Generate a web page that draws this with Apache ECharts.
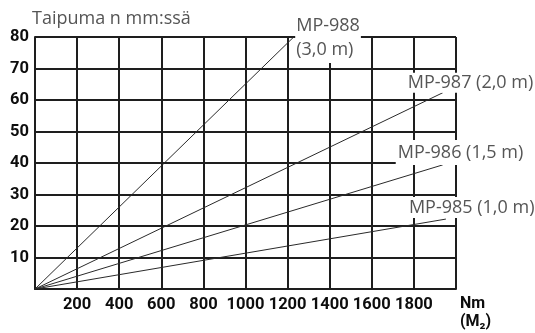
<!DOCTYPE html>
<html>
<head>
<meta charset="utf-8">
<script src="https://cdn.jsdelivr.net/npm/echarts@6/dist/echarts.min.js"></script>
<style>
html,body{margin:0;padding:0;background:#fff;}
#chart{width:535px;height:333px;}
</style>
</head>
<body>
<div id="chart"></div>
<script>
// ---- data ----
const titleText = 'Taipuma n mm:ssä';
const xUnitText = 'Nm\n(M₂)';
const xMin = 0, xMax = 2000, xStep = 200;
const yMin = 0, yMax = 80, yStep = 10;
const seriesNames = ['MP-988', 'MP-987', 'MP-986', 'MP-985'];
const seriesLabels = ['MP-988\n(3,0 m)', 'MP-987 (2,0 m)', 'MP-986 (1,5 m)', 'MP-985 (1,0 m)'];
const mp988 = [[0, 0], [1229, 80]];
const mp987 = [[0, 0], [1937, 62.3]];
const mp986 = [[0, 0], [1937, 39.4]];
const mp985 = [[0, 0], [1952, 22.2]];
const seriesData = [mp988, mp987, mp986, mp985];

// ---- styles ----
const labelStyles = [
  { offset: [-3.5, 0.5], padding: [2, 1, 1, 1], lineHeight: 24 },
  { offset: [-42, -10], padding: [0, 2, 0, 2], lineHeight: 20 },
  { offset: [-52, -12.5], padding: [1, 2, 4, 2], lineHeight: 20 },
  { offset: [-44, -11.5], padding: [0, 2, 1, 2], lineHeight: 20 }
];
const gridColor = '#1e1e1e';
const labelFont = { fontFamily: 'Open Sans', fontSize: 18, fontWeight: 'normal', color: '#555' };
const tickFont = { fontFamily: 'Roboto', fontSize: 16.5, fontWeight: 'bold', color: '#0d0d0d' };

const chart = echarts.init(document.getElementById('chart'), null, { renderer: 'canvas' });

const series = seriesNames.map((name, i) => ({
  name: name,
  type: 'line',
  data: seriesData[i],
  showSymbol: false,
  symbol: 'none',
  silent: true,
  animation: false,
  lineStyle: { color: '#2a2a2a', width: 1 },
  endLabel: Object.assign({
    show: true,
    formatter: () => seriesLabels[i],
    backgroundColor: '#fff',
    distance: 5,
    align: 'left',
    verticalAlign: 'middle'
  }, labelFont, labelStyles[i])
}));

chart.setOption({
  animation: false,
  backgroundColor: '#fff',
  title: {
    text: titleText,
    left: 32,
    top: 8,
    padding: 0,
    textStyle: Object.assign({}, labelFont, { lineHeight: 22 })
  },
  grid: { left: 35, top: 37, right: 79, bottom: 44, containLabel: false },
  xAxis: {
    type: 'value',
    min: xMin, max: xMax, interval: xStep,
    axisLine: { show: true, lineStyle: { color: gridColor, width: 2 } },
    axisTick: { show: false },
    splitLine: { show: true, lineStyle: { color: gridColor, width: 2 } },
    axisLabel: Object.assign({ margin: 7, showMinLabel: false, showMaxLabel: false,
      formatter: v => String(v) }, tickFont)
  },
  yAxis: {
    type: 'value',
    min: yMin, max: yMax, interval: yStep,
    axisLine: { show: true, lineStyle: { color: gridColor, width: 2 } },
    axisTick: { show: false },
    splitLine: { show: true, lineStyle: { color: gridColor, width: 2 } },
    axisLabel: Object.assign({ margin: 6, showMinLabel: false,
      formatter: v => String(v) }, tickFont)
  },
  graphic: [{
    type: 'text',
    left: 460,
    top: 295,
    style: { text: xUnitText, lineHeight: 18, fill: '#0d0d0d', font: 'bold 16px Roboto' }
  }],
  series: series
});
</script>
</body>
</html>
